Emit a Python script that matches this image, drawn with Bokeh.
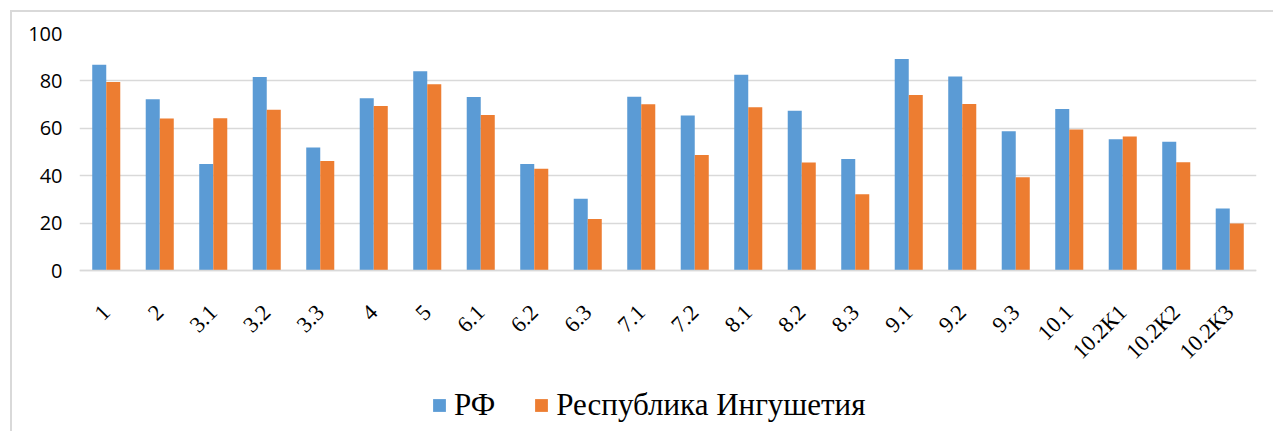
import math
from bokeh.plotting import figure
from bokeh.models import (FactorRange, Range1d, ColumnDataSource, Legend, LegendItem,
                          FixedTicker)
from bokeh.transform import dodge
from bokeh.embed import file_html
from bokeh.resources import INLINE

categories = ["1", "2", "3.1", "3.2", "3.3", "4", "5", "6.1", "6.2", "6.3", "7.1", "7.2",
              "8.1", "8.2", "8.3", "9.1", "9.2", "9.3", "10.1", "10.2К1", "10.2К2", "10.2К3"]
rf_values = [86.8, 72.3, 45.0, 81.6, 51.9, 72.7, 84.1, 73.2, 45.0, 30.3, 73.3, 65.4,
             82.6, 67.4, 47.1, 89.2, 81.9, 58.8, 68.1, 55.4, 54.3, 26.2]
ing_values = [79.5, 64.1, 64.3, 67.8, 46.2, 69.4, 78.6, 65.6, 42.9, 21.7, 70.2, 48.7,
              68.9, 45.6, 32.2, 74.1, 70.3, 39.4, 59.5, 56.5, 45.7, 19.8]
series_names = ["РФ", "Республика Ингушетия"]
y_ticks = [0, 20, 40, 60, 80, 100]

BLUE = "#5B9BD5"
ORANGE = "#ED7D31"
GRID = "#d9d9d9"
SERIF = "Times New Roman"

source = ColumnDataSource(dict(cat=categories, rf=rf_values, ing=ing_values))

border_css = ("linear-gradient(#d9d9d9, #d9d9d9) 10px 10px / 2px 100% no-repeat, "
              "linear-gradient(#d9d9d9, #d9d9d9) 10px 10px / 100% 2px no-repeat, white")

# frame spans from y=100 (top) down to the bottom of the canvas; 0 sits 237px below 100
p = figure(width=1273, height=431, output_backend="svg", toolbar_location=None,
           x_range=FactorRange(*categories, range_padding=0), y_range=Range1d(-67.9, 100),
           min_border_left=79, min_border_right=17, min_border_top=33, min_border_bottom=0,
           styles={"background": border_css})
p.outline_line_color = None
p.background_fill_color = None
p.border_fill_color = None

r1 = p.vbar(x=dodge("cat", -0.131, range=p.x_range), top="rf", width=0.262, source=source,
            fill_color=BLUE, line_color=None)
r2 = p.vbar(x=dodge("cat", 0.131, range=p.x_range), top="ing", width=0.262, source=source,
            fill_color=ORANGE, line_color=None)

p.xgrid.grid_line_color = None
p.ygrid.grid_line_color = GRID
p.ygrid.grid_line_width = 1.5
p.ygrid.ticker = FixedTicker(ticks=y_ticks)

p.yaxis.ticker = FixedTicker(ticks=y_ticks)
p.yaxis.axis_line_color = None
p.yaxis.major_tick_line_color = None
p.yaxis.minor_tick_line_color = None
p.yaxis.major_tick_out = 0
p.yaxis.major_tick_in = 0
p.yaxis.major_label_standoff = 17
p.yaxis.major_label_text_font = "Open Sans"
p.yaxis.major_label_text_font_size = "20px"
p.yaxis.major_label_text_color = "#000000"

p.xaxis.fixed_location = 0
p.xaxis.axis_line_color = GRID
p.xaxis.axis_line_width = 1.5
p.xaxis.major_tick_line_color = None
p.xaxis.minor_tick_line_color = None
p.xaxis.major_tick_out = 0
p.xaxis.major_tick_in = 0
p.xaxis.major_label_orientation = math.pi / 4
p.xaxis.major_label_standoff = 38
p.xaxis.major_label_text_font = SERIF
p.xaxis.major_label_text_font_size = "22.5px"
p.xaxis.major_label_text_color = "#000000"

legend = Legend(items=[LegendItem(label=series_names[0], renderers=[r1]),
                       LegendItem(label=series_names[1], renderers=[r2])],
                location=(352, 8), orientation="horizontal",
                glyph_width=16, glyph_height=16, label_standoff=7, spacing=38,
                padding=0, margin=0, border_line_color=None, background_fill_alpha=0,
                label_text_font=SERIF, label_text_font_size="31px",
                label_text_color="#000000")
p.add_layout(legend, "center")

open("out.html", "w").write(file_html(p, INLINE))
